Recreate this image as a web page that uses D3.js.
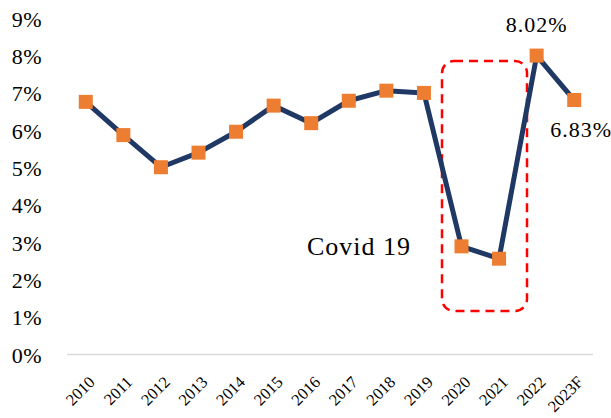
<!DOCTYPE html>
<html><head><meta charset="utf-8">
<script src="https://cdn.jsdelivr.net/npm/d3@7"></script>
<style>body{margin:0;background:#fff}</style></head>
<body><script>
const categories=["2010","2011","2012","2013","2014","2015","2016","2017","2018","2019","2020","2021","2022","2023F"];
const values=[6.78,5.89,5.03,5.42,5.98,6.68,6.21,6.81,7.08,7.02,2.91,2.58,8.02,6.83];
const yTicks=[0,1,2,3,4,5,6,7,8,9];
const labeledPoints=["2022","2023F"];
const covidText="Covid 19";

const W=611,H=418;
const font='"Palatino Linotype","Book Antiqua",Palatino,"Liberation Serif",serif';
const svg=d3.select("body").append("svg").attr("width",W).attr("height",H);
const x=d3.scaleBand().domain(categories).range([67,593]);
const y=d3.scaleLinear().domain([0,9]).range([355,19]);
const cx=d=>x(d)+x.bandwidth()/2;

// axis line
svg.append("line").attr("x1",67).attr("x2",593).attr("y1",y(0)-0.5).attr("y2",y(0)-0.5)
  .attr("stroke","#D9D9D9").attr("stroke-width",1.5);

// y tick labels
svg.selectAll(".yt").data(yTicks).enter().append("text")
  .attr("x",42).attr("y",d=>y(d)).attr("dy","0.35em").attr("text-anchor","end")
  .attr("font-family",font).attr("font-size",22).attr("letter-spacing",0.5).attr("fill","#000")
  .text(d=>d+"%");

// x tick labels
svg.selectAll(".xt").data(categories).enter().append("text")
  .attr("transform",d=>`translate(${cx(d)+6},${379}) rotate(-45)`)
  .attr("text-anchor","end").attr("dy","0.35em")
  .attr("font-family",font).attr("font-size",16.5).attr("fill","#000")
  .text(d=>d);

// covid box
svg.append("rect").attr("x",442).attr("y",61).attr("width",85).attr("height",250)
  .attr("rx",12).attr("ry",12).attr("fill","none").attr("stroke","#FF0000")
  .attr("stroke-width",2.5).attr("stroke-dasharray","9,6");

// line
const data=categories.map((c,i)=>({c,v:values[i]}));
svg.append("path").datum(data)
  .attr("d",d3.line().x(d=>cx(d.c)).y(d=>y(d.v)))
  .attr("fill","none").attr("stroke","#1F3864").attr("stroke-width",5).attr("stroke-linejoin","round");

// markers
svg.selectAll(".m").data(data).enter().append("rect")
  .attr("x",d=>cx(d.c)-7).attr("y",d=>y(d.v)-7).attr("width",14).attr("height",14)
  .attr("fill","#ED7D31");

// data labels
const lbl={"2022":{dx:0,dy:-31,anchor:"middle"},"2023F":{dx:-24,dy:29,anchor:"start"}};
svg.selectAll(".dl").data(data.filter(d=>labeledPoints.includes(d.c))).enter().append("text")
  .attr("x",d=>cx(d.c)+lbl[d.c].dx).attr("y",d=>y(d.v)+lbl[d.c].dy).attr("dy","0.35em")
  .attr("text-anchor",d=>lbl[d.c].anchor)
  .attr("font-family",font).attr("font-size",22).attr("letter-spacing",1).attr("fill","#000")
  .text(d=>d.v.toFixed(2)+"%");

// covid text
svg.append("text").attr("x",307).attr("y",246).attr("dy","0.35em")
  .attr("font-family",font).attr("font-size",26).attr("letter-spacing",1).attr("fill","#000").text(covidText);
</script></body></html>
